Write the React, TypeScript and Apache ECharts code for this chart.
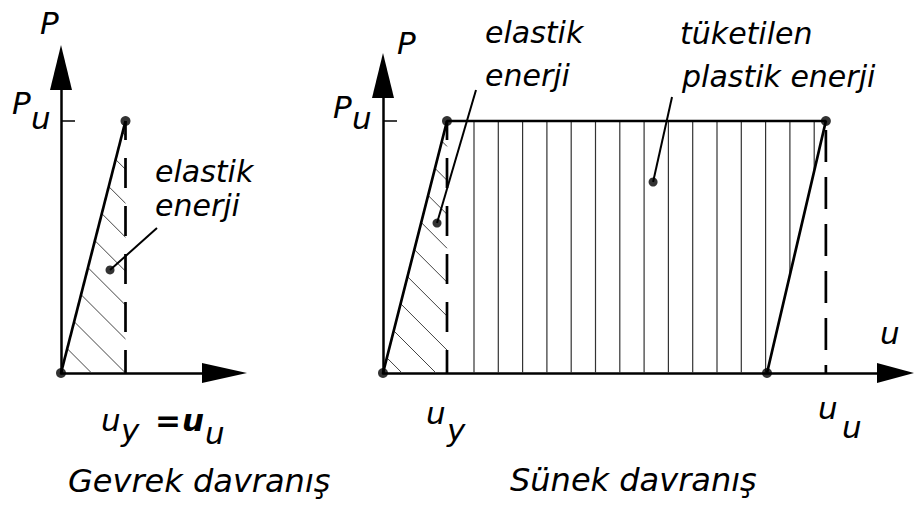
import React, { useEffect, useRef } from "react";
import * as echarts from "echarts";

// ---- values (u in units of u_y, P in units of P_u) ----
const Pu = 1;
const brittleUy = 1;
const ductileUy = 1;
const ductileUu = 6.92;
const ductileResidual = 6.0;

const brittleCurve = [[0, 0], [brittleUy, Pu]];
const ductileCurve = [[0, 0], [ductileUy, Pu], [ductileUu, Pu], [ductileResidual, 0]];
const brittleDashed = [[brittleUy, Pu], [brittleUy, 0]];
const ductileDashedY = [[ductileUy, Pu], [ductileUy, 0]];
const ductileDashedU = [[ductileUu, Pu], [ductileUu, 0]];
const brittleElasticArea = [[0, 0], [brittleUy, Pu], [brittleUy, 0]];
const ductileElasticArea = [[0, 0], [ductileUy, Pu], [ductileUy, 0]];
const ductilePlasticArea = [[ductileUy, 0], [ductileUy, Pu], [ductileUu, Pu], [ductileResidual, 0]];

const brittleLeader = [[0.76, 0.409], [1.488, 0.575]];
const ductileElasticLeader = [[0.844, 0.595], [1.453, 1.123]];
const ductilePlasticLeader = [[4.22, 0.758], [4.516, 1.095]];

const brittleDots = [[0, 0], [brittleUy, Pu]];
const ductileDots = [[0, 0], [ductileUy, Pu], [ductileUu, Pu], [ductileResidual, 0]];
const leaderDotsLeft = [brittleLeader[0]];
const leaderDotsRight = [ductileElasticLeader[0], ductilePlasticLeader[0]];

const axisLabelsText = { P: "P", u: "u", sub_u: "u", sub_y: "y" };
const annotations = {
  elastik: "elastik",
  enerji: "enerji",
  tuketilen: "tüketilen",
  plastik: "plastik enerji",
  brittle: "Gevrek davranış",
  ductile: "Sünek davranış",
};

const FONT = '"DejaVu Sans"';

function hatchSeries(
  gridIdx: number,
  poly: number[][],
  angleDeg: number,
  spacing: number,
  anchorPt: number[],
  shift: number[],
  margin: number,
  color: string,
  width: number
) {
  return {
    type: "custom",
    xAxisIndex: gridIdx,
    yAxisIndex: gridIdx,
    z: 1,
    silent: true,
    clip: false,
    data: [[0, 0]],
    renderItem: (params: any, api: any) => {
      const pts = poly.map((p) => api.coord(p));
      const a0 = api.coord(anchorPt);
      const a = [a0[0] + shift[0], a0[1] + shift[1]];
      const ang = (angleDeg * Math.PI) / 180;
      const d = [Math.cos(ang), Math.sin(ang)];
      const n = [-d[1], d[0]];
      const proj = (p: number[], v: number[]) => p[0] * v[0] + p[1] * v[1];
      const ss = pts.map((p: number[]) => proj(p, n));
      const smin = Math.min(...ss) + margin;
      const smax = Math.max(...ss) - margin;
      const c0 = proj(a, n);
      const kmin = Math.ceil((smin - c0) / spacing);
      const kmax = Math.floor((smax - c0) / spacing);
      const children: any[] = [];
      for (let k = kmin; k <= kmax; k++) {
        const c = c0 + k * spacing;
        const hits: number[][] = [];
        for (let i = 0; i < pts.length; i++) {
          const j = (i + 1) % pts.length;
          const p1 = pts[i], p2 = pts[j];
          const s1 = ss[i], s2 = ss[j];
          if (s1 === s2) continue;
          if ((s1 - c) * (s2 - c) > 0) continue;
          const t = (c - s1) / (s2 - s1);
          hits.push([p1[0] + t * (p2[0] - p1[0]), p1[1] + t * (p2[1] - p1[1])]);
        }
        if (hits.length < 2) continue;
        hits.sort((p, q) => proj(p, d) - proj(q, d));
        const A = hits[0], B = hits[hits.length - 1];
        if (Math.hypot(A[0] - B[0], A[1] - B[1]) < 1) continue;
        children.push({
          type: "line",
          shape: { x1: A[0], y1: A[1], x2: B[0], y2: B[1] },
          style: { stroke: color, lineWidth: width },
        });
      }
      return { type: "group", children };
    },
  };
}

function lineSeries(gridIdx: number, data: number[][], width: number, dash?: number[], dashOffset?: number, z = 3) {
  return {
    type: "line",
    xAxisIndex: gridIdx,
    yAxisIndex: gridIdx,
    data,
    showSymbol: false,
    clip: false,
    z,
    silent: true,
    lineStyle: {
      color: "#000",
      width,
      type: dash ? dash : "solid",
      dashOffset: dashOffset || 0,
    },
  };
}

function dotSeries(gridIdx: number, data: number[][], size: number) {
  return {
    type: "scatter",
    xAxisIndex: gridIdx,
    yAxisIndex: gridIdx,
    data,
    symbol: "circle",
    symbolSize: size,
    clip: false,
    z: 5,
    silent: true,
    itemStyle: { color: "#000" },
  };
}

function txt(text: string, x: number, baseline: number, fs = 31, bold = false) {
  return {
    type: "text",
    x,
    y: baseline - 0.33 * fs,
    silent: true,
    style: {
      text,
      font: `italic ${bold ? "bold " : ""}${fs}px ${FONT}`,
      fill: "#000",
      align: "left",
      verticalAlign: "middle",
    },
  };
}

export default function App() {
  const ref = useRef<HTMLDivElement>(null);
  useEffect(() => {
    if (!ref.current) return;
    const chart = echarts.init(ref.current, undefined, { renderer: "svg" });
    const axisLineBase = { color: "#000", width: 2.5 };
    const xAxisCommon = (gi: number, max: number, arrowLen: number) => ({
      type: "value",
      gridIndex: gi,
      min: 0,
      max,
      axisLine: {
        show: true,
        onZero: false,
        symbol: ["none", "triangle"],
        symbolSize: [20, arrowLen],
        lineStyle: axisLineBase,
      },
      axisTick: { show: false },
      axisLabel: { show: false },
      splitLine: { show: false },
    });
    const yAxisCommon = (gi: number, max: number) => ({
      type: "value",
      gridIndex: gi,
      min: 0,
      max,
      axisLine: {
        show: true,
        onZero: false,
        symbol: ["none", "triangle"],
        symbolSize: [22, 45],
        lineStyle: axisLineBase,
      },
      axisTick: {
        show: true,
        inside: true,
        length: 14,
        customValues: [Pu],
        lineStyle: { color: "#000", width: 1.5 },
      },
      axisLabel: { show: false },
      splitLine: { show: false },
    });

    const option: any = {
      animation: false,
      backgroundColor: "#fff",
      grid: [
        { left: 61, top: 67.5, width: 163.5, height: 305.5 },
        { left: 383, top: 75.5, width: 512.5, height: 297.5 },
      ],
      xAxis: [xAxisCommon(0, 163.5 / 64.5, 45), xAxisCommon(1, 512.5 / 64, 37)],
      yAxis: [yAxisCommon(0, 305.5 / 252), yAxisCommon(1, 297.5 / 252)],
      series: [
        // hatching
        hatchSeries(0, brittleElasticArea, 45, 24, [brittleUy, 0], [0, 0], 0.5, "#444", 1),
        hatchSeries(1, ductileElasticArea, 45, 24, [ductileUy, 0], [-11, 0], 0.5, "#444", 1),
        hatchSeries(1, ductilePlasticArea, 90, 24.3, [ductileUy, 0], [27, 0], 4, "#333", 1.2),
        // curves
        lineSeries(0, brittleCurve, 2.7),
        lineSeries(0, brittleDashed, 2.7, [30, 18], 11),
        lineSeries(1, ductileCurve, 2.7),
        lineSeries(1, ductileDashedY, 2.7, [30, 18], 11),
        lineSeries(1, ductileDashedU, 2.7, [32, 15], 38),
        // leaders
        lineSeries(0, brittleLeader, 2),
        lineSeries(1, ductileElasticLeader, 2),
        lineSeries(1, ductilePlasticLeader, 2),
        // dots
        dotSeries(0, brittleDots, 10),
        dotSeries(1, ductileDots, 10),
        dotSeries(0, leaderDotsLeft, 9),
        dotSeries(1, leaderDotsRight, 9),
      ],
      graphic: {
        elements: [
          txt(axisLabelsText.P, 40, 33),
          txt(axisLabelsText.P, 12, 113),
          txt(axisLabelsText.sub_u, 31, 128),
          txt(axisLabelsText.P, 397, 53),
          txt(axisLabelsText.P, 333, 117),
          txt(axisLabelsText.sub_u, 352, 128),
          txt(axisLabelsText.u, 101, 430),
          txt(axisLabelsText.sub_y, 121, 440),
          txt("=", 155, 430, 31, true),
          txt(axisLabelsText.u, 182, 430, 31, true),
          txt(axisLabelsText.sub_u, 205, 443),
          txt(axisLabelsText.u, 426, 423),
          txt(axisLabelsText.sub_y, 447, 440),
          txt(axisLabelsText.u, 818, 418),
          txt(axisLabelsText.sub_u, 842, 437),
          txt(axisLabelsText.u, 880, 343),
          txt(annotations.elastik, 155, 181, 30),
          txt(annotations.enerji, 155, 215, 30),
          txt(annotations.elastik, 485, 42, 30),
          txt(annotations.enerji, 485, 85, 30),
          txt(annotations.tuketilen, 680, 43, 30),
          txt(annotations.plastik, 682, 86, 30),
          txt(annotations.brittle, 68, 492, 32),
          txt(annotations.ductile, 510, 491, 32),
        ],
      },
    };
    chart.setOption(option);
    return () => chart.dispose();
  }, []);
  return (
    <div
      ref={ref}
      style={{ position: "absolute", left: 0, top: 0, width: 915, height: 507, background: "#fff" }}
    />
  );
}
